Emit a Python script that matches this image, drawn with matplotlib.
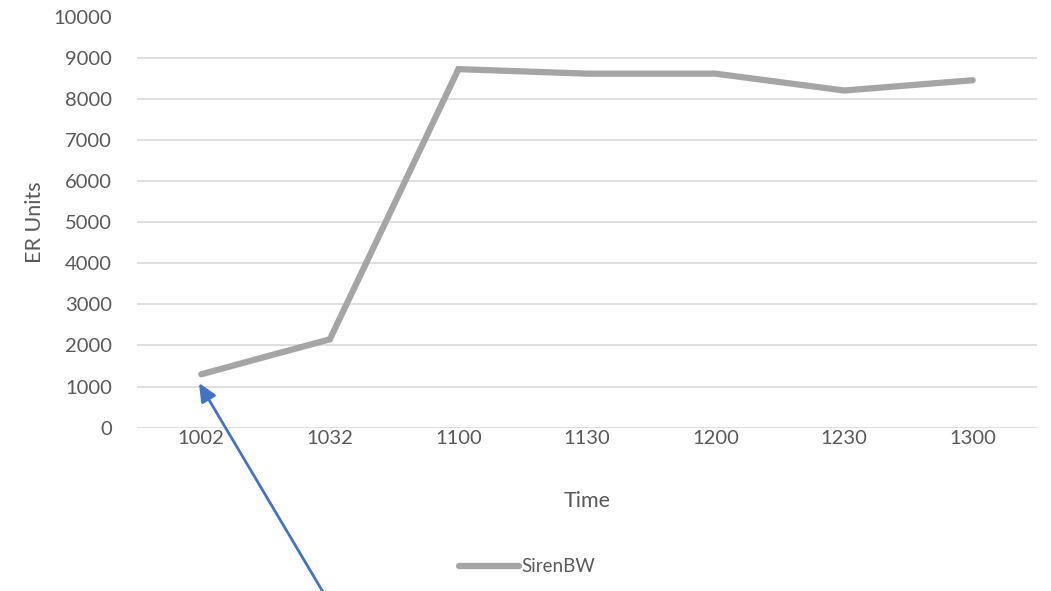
import matplotlib
matplotlib.use("Agg")
import matplotlib.pyplot as plt

categories = ["1002", "1032", "1100", "1130", "1200", "1230", "1300"]
values = [1300, 2150, 8720, 8610, 8610, 8200, 8450]
yticks = [0, 1000, 2000, 3000, 4000, 5000, 6000, 7000, 8000, 9000, 10000]
series_name = "SirenBW"

plt.rcParams['font.family'] = ['Lato', 'DejaVu Sans']
txt = "#595959"

W, H = 1051, 591
fig = plt.figure(figsize=(W / 100, H / 100), dpi=100)
ax = fig.add_axes([137 / W, 1 - 427.7 / H, 900 / W, (427.7 - 16.5) / H])

x = list(range(len(categories)))
ax.plot(x, values, color="#A5A5A5", lw=4.5, solid_capstyle="round",
        solid_joinstyle="miter", label=series_name)
ax.set_xlim(-0.5, len(categories) - 0.5)
ax.set_ylim(0, 10000)
ax.set_yticks(yticks)
ax.set_xticks(x)
ax.set_xticklabels(categories)
ax.grid(axis="y", color="#D9D9D9", lw=1.2)
ax.set_axisbelow(True)
for s in ax.spines.values():
    s.set_visible(False)
ax.tick_params(length=0, colors=txt, labelsize=14.5)
ax.tick_params(axis="y", pad=18)
ax.tick_params(axis="x", pad=2)
ax.set_xlabel("Time", fontsize=15.5, color=txt, labelpad=31)
ax.set_ylabel("ER Units", fontsize=15.5, color=txt, labelpad=6)

leg = fig.legend(loc="center", bbox_to_anchor=(527 / W, 1 - 567 / H), frameon=False,
                 fontsize=13.5, handlelength=3.2, handletextpad=0.15)
for t in leg.get_texts():
    t.set_color(txt)

ax.annotate("", xy=(199 / W, 1 - 383 / H), xycoords="figure fraction",
            xytext=(323 / W, 1 - 592 / H), textcoords="figure fraction",
            arrowprops=dict(arrowstyle="-|>,head_length=1.1,head_width=0.5",
                            color="#4472C4", lw=2.0, shrinkA=0, shrinkB=0),
            annotation_clip=False)

fig.savefig("out.png", dpi=100)
